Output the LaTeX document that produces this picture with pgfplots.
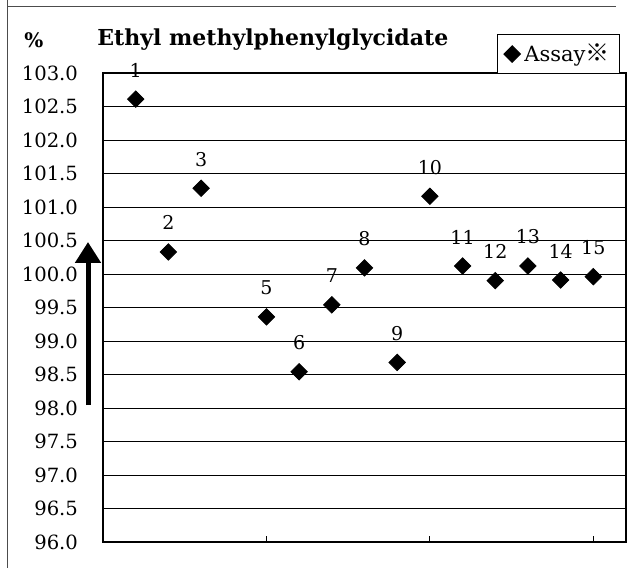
\documentclass[border=0pt]{standalone}
\usepackage{fontspec}
\setmainfont{DejaVu Serif}
\newfontfamily\cjk{Noto Sans CJK JP}
\usepackage{pgfplots}
\pgfplotsset{compat=1.18}
\usetikzlibrary{arrows.meta}
\begin{document}
\begin{tikzpicture}
\path[use as bounding box] (0,0) rectangle (318pt,284pt);
\draw[line width=0.5pt, black!70] (3.5pt,284pt) -- (3.5pt,0pt);
\draw[line width=0.5pt, black!70] (3.5pt,280.5pt) -- (308pt,280.5pt);
\begin{axis}[
  at={(51.5pt,13pt)}, anchor=south west,
  scale only axis, width=261.5pt, height=234.5pt,
  xmin=0, xmax=16, ymin=96, ymax=103,
  xtick={0,5,10,15}, xticklabels={}, xtick pos=bottom,
  ytick distance=0.5, ytick pos=left,
  tick align=inside, major tick length=3pt,
  ymajorgrids, grid style={black, line width=0.5pt},
  axis line style={black, line width=0.6pt},
  tick style={black, line width=0.5pt},
  /pgf/number format/.cd, fixed, fixed zerofill, precision=1, assume math mode=true,
  /pgfplots/.cd,
  yticklabel style={font=\fontsize{9.8}{11}\selectfont, xshift=-9pt},
  legend style={at={(0.9885,0.998)}, anchor=south east, draw=black, line width=0.5pt,
    font=\fontsize{10.5}{12}\selectfont, inner xsep=3pt, inner ysep=2.5pt, row sep=0pt},
  legend cell align=left,
  legend image code/.code={\draw[#1] plot coordinates {(0.12cm,0cm)};},
]
\addplot[only marks, mark=square*, mark size=2.9pt, mark options={rotate=45, fill=black, draw=black},
  nodes near coords, point meta=explicit symbolic,
  every node near coord/.append style={anchor=center, yshift=14.5pt, font=\fontsize{9.5}{11}\selectfont, text=black}]
coordinates {
(1,102.61) [1]
(2,100.33) [2]
(3,101.28) [3]
(5,99.36) [5]
(6,98.54) [6]
(7,99.54) [7]
(8,100.09) [8]
(9,98.68) [9]
(10,101.16) [10]
(11,100.12) [11]
(12,99.90) [12]
(13,100.12) [13]
(14,99.91) [14]
(15,99.96) [15]
};
\addlegendentry{Assay{\cjk\fontsize{12}{12}\selectfont ※}}
\end{axis}
\node[anchor=center, font=\fontsize{10}{11}\selectfont\bfseries] at (17pt,264pt) {\%};
\node[anchor=west, inner sep=0pt, font=\fontsize{11}{13}\selectfont\bfseries] at (48.5pt,264pt) {Ethyl methylphenylglycidate};
\draw[line width=2.5pt, -{Triangle[width=12.5pt,length=10.5pt]}] (44pt,81.5pt) -- (44pt,163pt);
\end{tikzpicture}
\end{document}
